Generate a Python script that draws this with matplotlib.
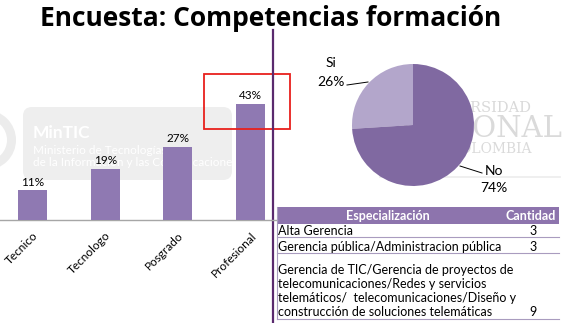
import matplotlib
matplotlib.use('Agg')
import matplotlib.pyplot as plt
from matplotlib.patches import Rectangle, FancyBboxPatch, Circle

# data
niveles = ['Tecnico', 'Tecnologo', 'Posgrado', 'Profesional']
porcentajes = [11, 19, 27, 43]

pie_labels = ['Si', 'No']
pie_values = [26, 74]

tabla_header = ['Especialización', 'Cantidad']
tabla_filas = ['Alta Gerencia',
               'Gerencia pública/Administracion pública',
               'Gerencia de TIC/Gerencia de proyectos de\n'
               'telecomunicaciones/Redes y servicios\n'
               'telemáticos/  telecomunicaciones/Diseño y\n'
               'construcción de soluciones telemáticas']
tabla_cantidad = [3, 3, 9]

W, H = 568, 323
FONT = 'Lato'
bar_color = '#8f79b2'
purple_dark = '#5a2a6e'


def box(l, t, w, h):
    """pixel box (top-left origin) -> figure fraction"""
    return [l / W, 1 - (t + h) / H, w / W, h / H]


fig = plt.figure(figsize=(W / 100, H / 100), dpi=100)
fig.patch.set_facecolor('white')

# faint watermarks in the background
wm = fig.add_axes(box(0, 0, W, H), zorder=0)
wm.set_xlim(0, W)
wm.set_ylim(H, 0)
wm.axis('off')
wm.add_patch(Circle((-14, 140), 30, facecolor='#ececec', edgecolor='none'))
wm.add_patch(Circle((-14, 140), 21, facecolor='white', edgecolor='none'))
wm.add_patch(FancyBboxPatch((23, 107), 209, 73, boxstyle='round,pad=0,rounding_size=9',
                            facecolor='#eeeeee', edgecolor='none'))
wm.text(33, 133, 'MinTIC', color='white', fontsize=12.5, fontweight='bold', family=FONT,
        va='center')
wm.text(33, 150, 'Ministerio de Tecnologías', color='white', fontsize=8.5, family=FONT,
        va='center')
wm.text(33, 163, 'de la Información y las Comunicaciones', color='white', fontsize=8.5,
        family=FONT, va='center')
wm.text(531, 108, 'UNIVERSIDAD', color='#d9d9d9', fontsize=10.5, family='DejaVu Serif',
        va='center', ha='right')
wm.text(563, 129, 'NACIONAL', color='#dadada', fontsize=21, family='DejaVu Serif',
        va='center', ha='right')
wm.text(531, 149, 'DE COLOMBIA', color='#dadada', fontsize=10, family='DejaVu Serif',
        va='center', ha='right')
wm.plot([380, 560], [177, 177], color='#ececec', lw=1.2)

# title, sized so it spans about x=40..502 px
title = fig.text(271 / W, 1 - 26 / H, 'Encuesta: Competencias formación', ha='center',
                 va='baseline', fontsize=20, fontweight='bold', family='Open Sans')
r = fig.canvas.get_renderer()
tw = title.get_window_extent(r).width
title.set_fontsize(20 * 462 / tw)

# bar chart
step = 72.67
ax = fig.add_axes(box(0, 60, 272, 160), zorder=2)
ax.patch.set_alpha(0)
x = range(len(niveles))
ax.bar(x, porcentajes, width=0.4, color=bar_color, zorder=3)
ax.set_xlim(-32.5 / step, (272 - 32.5) / step)
ax.set_ylim(0, 160 / 2.7)
for i, v in enumerate(porcentajes):
    ax.text(i, v + 1.0, f'{v}%', ha='center', va='bottom', fontsize=8.5, family=FONT)
ax.set_xticks(list(x))
ax.set_xticklabels(niveles, rotation=45, ha='right', rotation_mode='anchor', fontsize=8.5,
                   family=FONT)
ax.tick_params(axis='x', length=0, pad=7)
ax.set_yticks([])
for s in ['top', 'right', 'left']:
    ax.spines[s].set_visible(False)
ax.spines['bottom'].set_color('#a6a6a6')
ax.spines['bottom'].set_linewidth(1)

# overlay (red box, divider)
ov = fig.add_axes(box(0, 0, W, H), zorder=5)
ov.set_xlim(0, W)
ov.set_ylim(H, 0)
ov.axis('off')
ov.add_patch(Rectangle((204, 74), 86, 55, facecolor='none', edgecolor='#e8201c', lw=1.3))
ov.plot([272.5, 272.5], [30, H], color=purple_dark, lw=1.6)
ov.plot([272, 277], [220, 220], color='#a6a6a6', lw=1)

# pie
pax = fig.add_axes(box(352, 64, 122, 122), zorder=3)
pax.pie(pie_values, colors=['#b3a6cb', '#8069a1'], startangle=90, counterclock=True, radius=1)
pax.set_xlim(-1, 1)
pax.set_ylim(-1, 1)
pax.set_aspect('equal')
ov.text(331, 63, pie_labels[0], ha='center', va='center', fontsize=10, family=FONT)
ov.text(331, 82, f'{pie_values[0]}%', ha='center', va='center', fontsize=10, family=FONT)
ov.plot([347, 368], [85, 82], color='black', lw=0.7)
ov.text(494, 171, pie_labels[1], ha='center', va='center', fontsize=10, family=FONT)
ov.text(494, 188, f'{pie_values[1]}%', ha='center', va='center', fontsize=10, family=FONT)
ov.plot([460, 482], [166, 173], color='black', lw=0.7)

# table
tx0, tx1 = 277, 559
line_c = '#a99cbf'
ov.add_patch(Rectangle((tx0, 207), tx1 - tx0, 17, facecolor='#8d74ad', edgecolor='none'))
ov.text(388, 215.5, tabla_header[0], color='white', fontweight='bold', fontsize=9,
        ha='center', va='center', family=FONT)
ov.text(531, 215.5, tabla_header[1], color='white', fontweight='bold', fontsize=9,
        ha='center', va='center', family=FONT)
row_bots = [237, 253, 319]
last_base = [235, 251, 315.5]
for bot, b1, txt, n in zip(row_bots, last_base, tabla_filas, tabla_cantidad):
    ov.text(tx0 + 1.5, b1, txt, fontsize=9, ha='left', va='baseline', family=FONT,
            linespacing=1.2)
    ov.text(533, b1, str(n), fontsize=9, ha='center', va='baseline', family=FONT)
    ov.plot([tx0, tx1], [bot, bot], color=line_c, lw=0.8)
ov.plot([tx0, tx0], [207, 319], color=line_c, lw=0.8)

fig.savefig('out.png', dpi=100)
